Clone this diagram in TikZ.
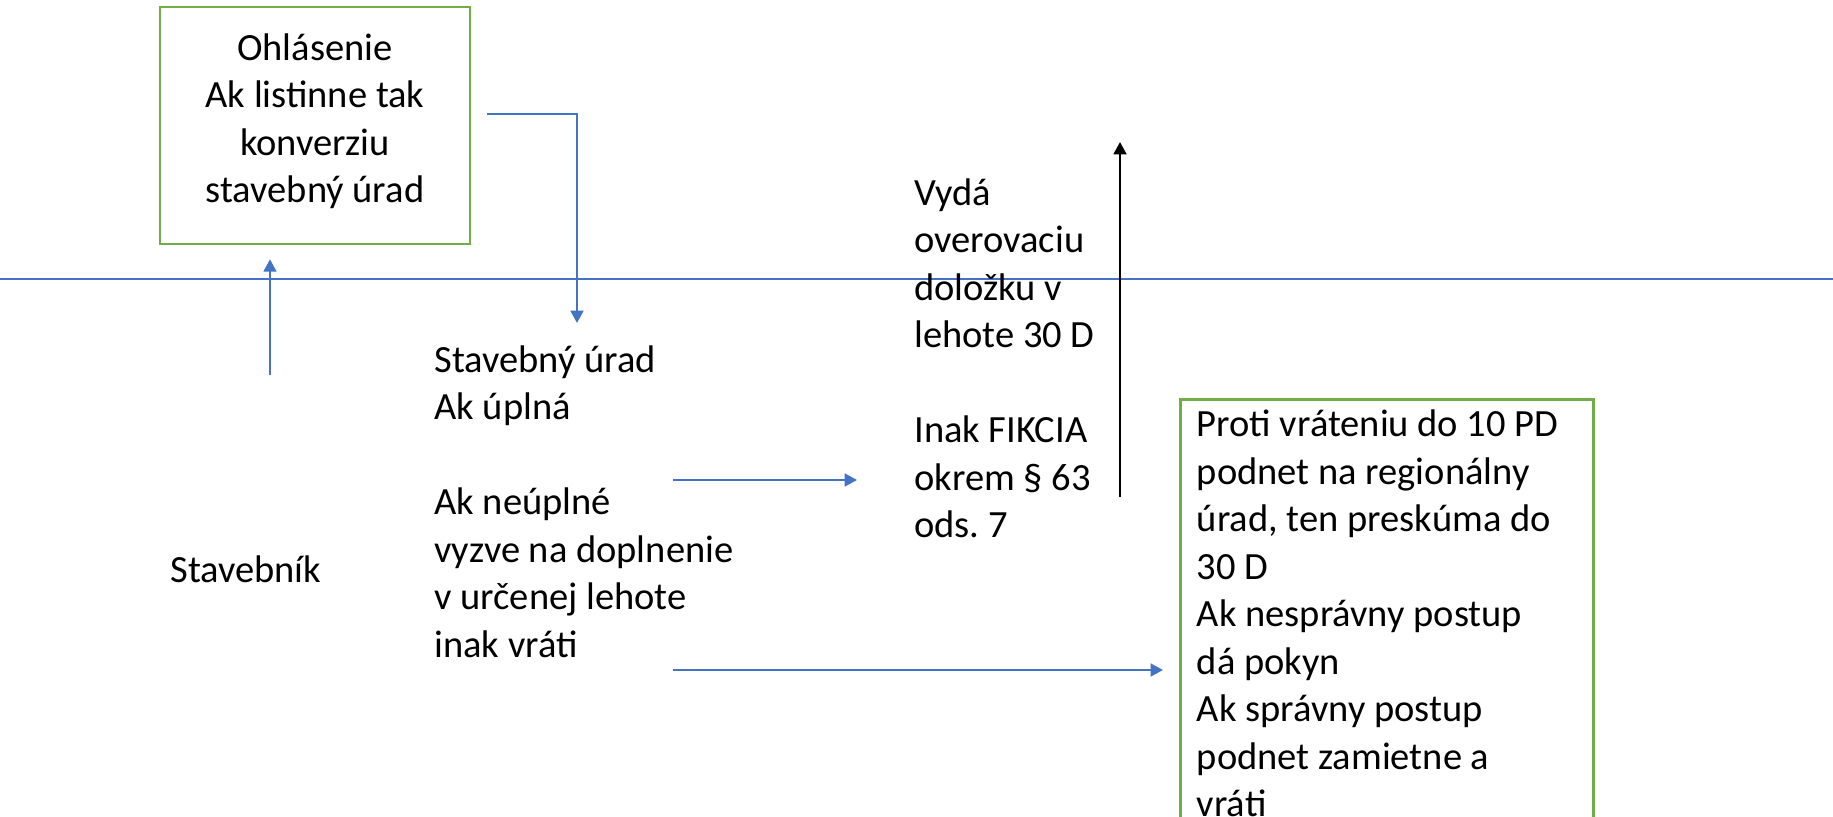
\documentclass[tikz,border=0pt]{standalone}
\usepackage{fontspec}
\setmainfont{Carlito}
\usetikzlibrary{arrows.meta}
\definecolor{lineblue}{HTML}{4472C4}
\definecolor{boxgreen}{HTML}{70AD47}
\newcommand{\txtsize}{\fontsize{19.25}{23.75}\selectfont\frenchspacing}

\begin{document}
\begin{tikzpicture}[x=0.5pt,y=-0.5pt,>={Triangle[length=6.2pt,width=6.4pt]}]
    \tikzstyle{every node}=[inner sep=0pt,font=\txtsize,execute at begin node=\noindent\strut]
    \tikzstyle{plain text}=[anchor=north west,align=left]
    \tikzstyle{green box}=[draw=boxgreen,line width=1.35pt]
    \tikzstyle{blue arrow}=[->,draw=lineblue,line width=1.2pt]
    \useasboundingbox (0,0) rectangle (1833,817);
    \clip (0,0) rectangle (1833,817);
    % Draw the dividing line
      \coordinate (L) at (0,279);
      \coordinate (R) at (1833,279);
      \draw[lineblue,line width=0.75pt] (L) -- (R);
    % Draw the boxes and texts
      \node[green box,align=center,minimum width=155pt,minimum height=118.5pt,execute at begin node=\rule{0pt}{22.6pt}] (O) at (315,125.5) {Ohlásenie\\Ak listinne tak\\konverziu\\stavebný úrad};
      \node[plain text] (St) at (170,549) {Stavebník};
      \node[plain text] (U) at (434,345) {Stavebný úrad\\Ak úplná\\[23.75pt]Ak neúplné\\vyzve na doplnenie\\v určenej lehote\\inak vráti};
      \node[plain text] (V) at (914,178) {Vydá\\overovaciu\\doložku v\\lehote 30 D\\[23.75pt]Inak FIKCIA\\okrem § 63\\ods. 7};
      \node[green box,anchor=north west,text width=190pt,align=flush left,inner xsep=8.25pt,inner ysep=2pt,execute at end node=\strut] (P) at (1179,398) {Proti vráteniu do 10 PD\\podnet na regionálny\\úrad, ten preskúma do\\30 D\\Ak nesprávny postup\\dá pokyn\\Ak správny postup\\podnet zamietne a\\vráti};
    % free ends of the arrows
       \coordinate (X) at (270,375);
       \coordinate (X2) at (487,114);
       \coordinate (X3) at (577,323);
       \coordinate (X4) at (673,480);
       \coordinate (X5) at (857,480);
       \coordinate (X6) at (673,670);
       \coordinate (X7) at (1120,497);
       \coordinate (X8) at (1120,142);

      \draw[blue arrow,shorten >=7pt] (X) -- (X |- O.south);
      \draw[blue arrow] (X2) -| (X3);
      \draw[blue arrow] (X4) -- (X5);
      \draw[blue arrow,shorten >=8pt] (X6) -- (X6 -| P.west);
      \draw[->,black,line width=1.2pt] (X7) -- (X8);
	\end{tikzpicture}
\end{document}
